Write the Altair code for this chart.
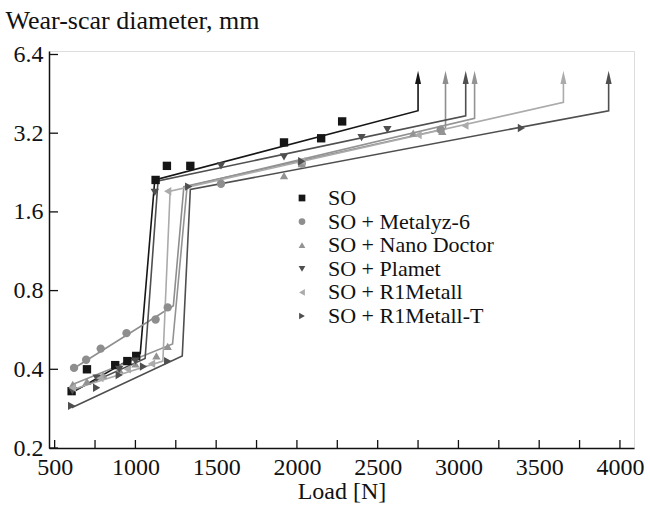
import altair as alt
import pandas as pd

# Series names (legend order)
series = ["SO", "SO + Metalyz-6", "SO + Nano Doctor", "SO + Plamet",
          "SO + R1Metall", "SO + R1Metall-T"]
shapes = ["square", "circle", "triangle-up", "triangle-down",
          "triangle-left", "triangle-right"]
colors = ["#161616", "#8e8e8e", "#939393", "#4f4f4f", "#ababab", "#4f4f4f"]

# Measured wear-scar diameters (mm) against load (N)
so_load = [605, 700, 875, 950, 1005, 1125, 1195, 1340, 1920, 2150, 2280]
so_diam = [0.33, 0.40, 0.415, 0.43, 0.45, 2.12, 2.40, 2.40, 2.95, 3.06, 3.55]

met_load = [620, 695, 785, 945, 1125, 1200, 1530, 2030, 2890]
met_diam = [0.405, 0.435, 0.48, 0.55, 0.62, 0.69, 2.05, 2.45, 3.30]

nano_load = [612, 700, 800, 900, 1000, 1130, 1200, 1920, 2030, 2720, 2900]
nano_diam = [0.35, 0.36, 0.38, 0.40, 0.42, 0.45, 0.49, 2.20, 2.45, 3.20, 3.25]

plam_load = [610, 760, 900, 1000, 1120, 1530, 1920, 2400, 2560]
plam_diam = [0.33, 0.37, 0.40, 0.43, 1.90, 2.40, 2.60, 3.08, 3.30]

r1_load = [610, 780, 950, 1100, 1200, 2030, 2750, 3040]
r1_diam = [0.34, 0.37, 0.40, 0.42, 1.92, 2.50, 3.15, 3.42]

r1t_load = [605, 760, 900, 1050, 1200, 1330, 2030, 3390]
r1t_diam = [0.29, 0.34, 0.38, 0.41, 0.43, 2.00, 2.50, 3.35]

# Fitted curves: low-load branch, seizure jump, high-load branch
so_fit_load = [605, 1030, 1120, 2750]
so_fit_diam = [0.325, 0.46, 2.12, 3.90]
met_fit_load = [610, 1235, 1300, 2920]
met_fit_diam = [0.40, 0.70, 2.00, 3.33]
nano_fit_load = [610, 1230, 1320, 3100]
nano_fit_diam = [0.35, 0.50, 2.00, 3.65]
plam_fit_load = [610, 1060, 1140, 3045]
plam_fit_diam = [0.33, 0.44, 2.10, 3.73]
r1_fit_load = [610, 1170, 1215, 3650]
r1_fit_diam = [0.335, 0.43, 1.92, 4.20]
r1t_fit_load = [605, 1290, 1340, 3930]
r1t_fit_diam = [0.285, 0.45, 1.95, 3.90]

# Arrows mark the welding load (beyond the scale)
arrow_base = 5.0
arrow_head = 5.2

x_ticks = [500, 750, 1000, 1250, 1500, 1750, 2000, 2250, 2500, 2750,
           3000, 3250, 3500, 3750, 4000]
y_ticks = [0.2, 0.4, 0.8, 1.6, 3.2, 6.4]

pts_src = [(so_load, so_diam), (met_load, met_diam), (nano_load, nano_diam),
           (plam_load, plam_diam), (r1_load, r1_diam), (r1t_load, r1t_diam)]
fit_src = [(so_fit_load, so_fit_diam), (met_fit_load, met_fit_diam),
           (nano_fit_load, nano_fit_diam), (plam_fit_load, plam_fit_diam),
           (r1_fit_load, r1_fit_diam), (r1t_fit_load, r1t_fit_diam)]

pts_rows, fit_rows, head_rows = [], [], []
for name, (ls, ds) in zip(series, pts_src):
    for l, d in zip(ls, ds):
        pts_rows.append({"series": name, "load": l, "diam": d})
for name, clr, (ls, ds) in zip(series, colors, fit_src):
    k = 0
    for l, d in zip(ls, ds):
        fit_rows.append({"series": name, "clr": clr, "load": l, "diam": d, "k": k})
        k += 1
    fit_rows.append({"series": name, "clr": clr, "load": ls[-1],
                     "diam": arrow_base, "k": k})
    head_rows.append({"series": name, "clr": clr, "load": ls[-1],
                      "diam": arrow_head})

pts = pd.DataFrame(pts_rows)
fits = pd.DataFrame(fit_rows)
heads = pd.DataFrame(head_rows)
keys = pd.DataFrame({"series": series})

FONT = "Liberation Serif"

x_scale = alt.Scale(domain=[465, 4087], nice=False, zero=False)
y_scale = alt.Scale(type="log", base=2, domain=[0.2, 6.6], nice=False)
c_scale = alt.Scale(domain=series, range=colors)
s_scale = alt.Scale(domain=series, range=shapes)

x_axis = alt.Axis(values=x_ticks, ticks=False, tickSize=0, grid=False,
                  labelExpr="datum.value % 500 == 0 ? datum.label : ''",
                  format="d", labelFont=FONT, labelFontSize=24,
                  labelColor="#111", labelPadding=7, domainColor="#111",
                  domainWidth=1.5, title="Load [N]", titleFont=FONT,
                  titleFontSize=24, titleFontWeight="normal",
                  titleColor="#111", titleBaseline="alphabetic", titleY=50,
                  labelFlush=False, labelOverlap=False)
y_axis = alt.Axis(values=y_ticks, ticks=False, tickSize=0, grid=False,
                  labelFont=FONT, labelFontSize=24, labelColor="#111",
                  labelPadding=6, domainColor="#111", domainWidth=1.5,
                  labelExpr="format(datum.value, '.1f')",
                  title="Wear-scar diameter, mm", titleFont=FONT,
                  titleFontSize=26, titleFontWeight="normal",
                  titleColor="#111", titleAngle=0, titleAlign="left",
                  titleBaseline="alphabetic", titleX=-44, titleY=-23,
                  labelFlush=False, labelOverlap=False)

base_x = alt.X("load:Q", scale=x_scale, axis=x_axis)
base_y = alt.Y("diam:Q", scale=y_scale, axis=y_axis)

# fitted lines and arrowheads take their colour straight from the table
lines = alt.Chart(fits).mark_line(strokeWidth=1.6).encode(
    x=base_x, y=base_y,
    stroke=alt.Stroke("clr:N", scale=None),
    detail="series:N",
    order="k:Q",
)

arrowheads = alt.Chart(heads).mark_point(
    shape="M0,-1.2L0.5,1L-0.5,1Z", filled=True, size=144, opacity=1,
    strokeWidth=0
).encode(
    x="load:Q", y="diam:Q",
    fill=alt.Fill("clr:N", scale=None),
)

points = alt.Chart(pts).mark_point(filled=True, size=70, opacity=1).encode(
    x="load:Q", y="diam:Q",
    color=alt.Color("series:N", scale=c_scale, legend=None),
    shape=alt.Shape("series:N", scale=s_scale, legend=None),
)

xt = pd.DataFrame({"t": x_ticks})
yt = pd.DataFrame({"t": y_ticks})
x_tick_marks = alt.Chart(xt).mark_rule(color="#111", strokeWidth=1.3).encode(
    x=alt.X("t:Q"), y=alt.value(397), y2=alt.value(389))
y_tick_marks = alt.Chart(yt).mark_rule(color="#111", strokeWidth=1.3).encode(
    y=alt.Y("t:Q"), x=alt.value(0), x2=alt.value(9))

main = alt.layer(lines, arrowheads, points, x_tick_marks, y_tick_marks)

# key: one row per series, stacked in the upper middle of the plot
key_y = alt.Y("series:N", axis=None,
              scale=alt.Scale(domain=series, range=[147, 265], padding=0))
key_symbols = alt.Chart(keys).mark_point(filled=True, size=45, opacity=1).encode(
    x=alt.value(253), y=key_y,
    color=alt.Color("series:N", scale=c_scale, legend=None),
    shape=alt.Shape("series:N", scale=s_scale, legend=None),
)
key_labels = alt.Chart(keys).mark_text(
    align="left", baseline="middle", font=FONT, fontSize=22, color="#111"
).encode(x=alt.value(279), y=key_y, text="series:N")

chart = alt.layer(main, key_symbols, key_labels).resolve_scale(
    y="independent"
).properties(
    width=585, height=397,
    padding={"left": 49, "top": 51, "right": 16, "bottom": 63},
    autosize=alt.AutoSizeParams(type="none"),
).configure_view(stroke=None).configure(background="white")

chart.save("out.html", embed_options={"renderer": "svg", "actions": False})
